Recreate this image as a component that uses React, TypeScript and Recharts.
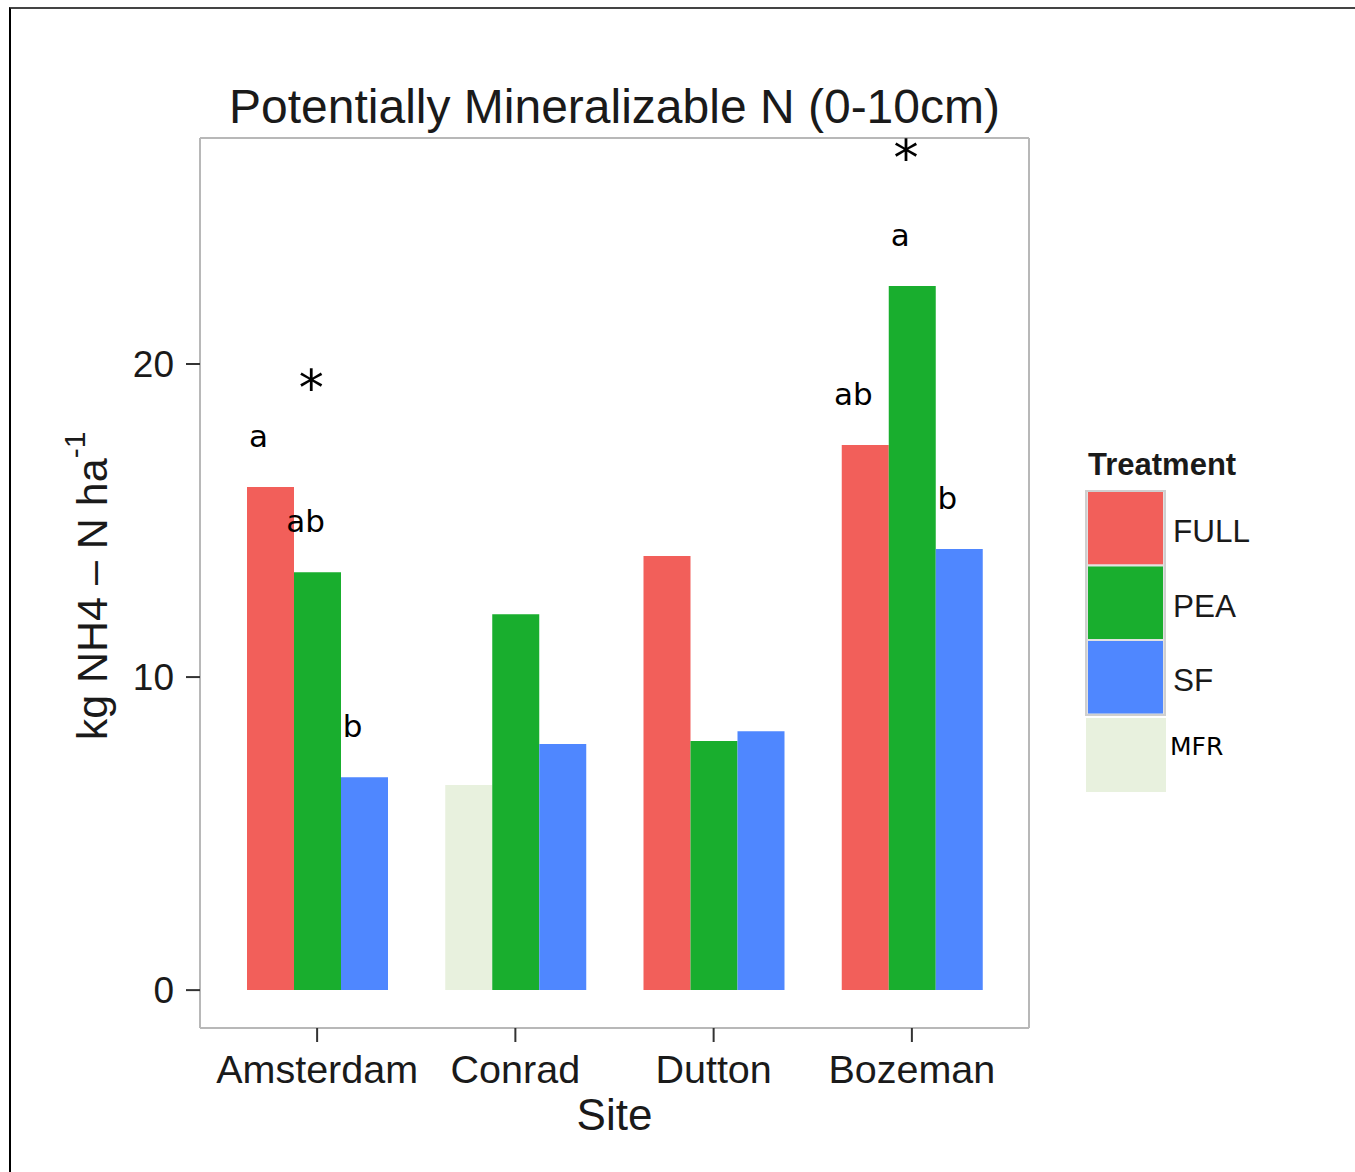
import React from 'react';
import { BarChart, Bar, XAxis, YAxis, CartesianGrid, Cell, LabelList, ReferenceDot, Legend, Label } from 'recharts';

const sites = ['Amsterdam', 'Conrad', 'Dutton', 'Bozeman'];
const firstTreatment = ['FULL', 'MFR', 'FULL', 'FULL'];
const firstValues = [16.07, 6.55, 13.87, 17.41];
const peaValues = [13.35, 12.01, 7.96, 22.49];
const sfValues = [6.8, 7.86, 8.27, 14.09];
const firstLetters = ['a', '', '', 'ab'];
const peaLetters = ['ab', '', '', 'a'];
const sfLetters = ['b', '', '', 'b'];
const starSites = ['Amsterdam', 'Bozeman'];
const starY = [19.55, 26.9];
const treatments = ['FULL', 'PEA', 'SF', 'MFR'];
const colors: Record<string, string> = { FULL: '#f25f5a', PEA: '#19ae2e', SF: '#4f87ff', MFR: '#e8f1de' };
const yTicks = [0, 10, 20];
const minorTicks = [5, 15, 25];
const yDomain: [number, number] = [-1.21, 27.22];
const title = 'Potentially Mineralizable N (0-10cm)';

const data = sites.map((site, i) => ({
  site,
  firstTreatment: firstTreatment[i],
  first: firstValues[i],
  PEA: peaValues[i],
  SF: sfValues[i],
  firstSig: firstLetters[i],
  peaSig: peaLetters[i],
  sfSig: sfLetters[i],
}));

const SANS = "'Liberation Sans', Arial, sans-serif";
const DEJAVU = "'DejaVu Sans', Verdana, sans-serif";
const BORDER = '#b8b8b8';

const renderSig = (props: any) => {
  const { x, y, width, value } = props;
  if (!value) return null;
  return (
    <text x={Number(x) + Number(width) / 2 - 12} y={Number(y) - 40} textAnchor="middle" fontFamily={DEJAVU} fontSize={31} fill="#000">
      {value}
    </text>
  );
};

const renderTitle = (props: any) => {
  const vb = props.viewBox || {};
  return (
    <text x={vb.x + vb.width / 2} y={vb.y - 14} textAnchor="middle" fontFamily={SANS} fontSize={48} fill="#1a1a1a">
      {title}
    </text>
  );
};

const renderSite = (props: any) => {
  const vb = props.viewBox || {};
  return (
    <text x={vb.x + vb.width / 2} y={vb.y + 102} textAnchor="middle" fontFamily={SANS} fontSize={44} fill="#1a1a1a">
      Site
    </text>
  );
};

const renderYLabel = (props: any) => {
  const vb = props.viewBox || {};
  const cx = vb.x + 107;
  const cy = vb.y + vb.height / 2 + 3;
  return (
    <text x={cx} y={cy} transform={`rotate(-90, ${cx}, ${cy})`} textAnchor="middle" fontFamily={SANS} fontSize={43} fill="#1a1a1a">
      kg NH4 – N ha
      <tspan dy={-22} fontSize={30}>-1</tspan>
    </text>
  );
};

const renderLegend = () => (
  <svg width={270} height={360} style={{ display: 'block' }}>
    <text x={8} y={35} fontFamily={SANS} fontWeight="bold" fontSize={31} fill="#1a1a1a">Treatment</text>
    {treatments.slice(0, 3).map((t, i) => (
      <g key={t}>
        <rect x={7} y={51 + i * 74.5} width={77} height={74.5} fill={colors[t]} stroke="#e2e2e2" strokeWidth={2} />
        <text x={93} y={51 + i * 74.5 + 37 + 14} fontFamily={SANS} fontSize={31.5} fill="#1a1a1a">{t}</text>
      </g>
    ))}
    <rect x={6} y={51} width={79} height={224} fill="none" stroke="#cfcfcf" strokeWidth={2} />
    <rect x={6} y={278} width={80} height={74} fill={colors[treatments[3]]} />
    <text x={90} y={315} fontFamily={DEJAVU} fontSize={25} fill="#000">{treatments[3]}</text>
  </svg>
);

export default function App() {
  return (
    <div style={{ position: 'absolute', left: 0, top: 0, width: 1355, height: 1172, overflow: 'hidden', background: '#fff' }}>
      <div style={{ position: 'absolute', left: 9, top: 7, width: 1400, height: 1200, borderLeft: '2px solid #000', borderTop: '2px solid #444', boxSizing: 'border-box' }} />
      <div style={{ position: 'absolute', left: 0, top: 0 }}>
        <BarChart width={1355} height={1172} data={data} margin={{ top: 137, right: 325, bottom: 0, left: 0 }} barGap={0} barSize={47}>
          <CartesianGrid yAxisId="r" vertical={false} stroke="#efefef" strokeWidth={2} />
          <XAxis
            dataKey="site"
            type="category"
            height={144}
            padding={{ left: 18, right: 18 }}
            tickSize={14}
            tickMargin={13}
            tickLine={{ stroke: '#333', strokeWidth: 2 }}
            axisLine={{ stroke: BORDER, strokeWidth: 2 }}
            tick={{ fill: '#1a1a1a', fontSize: 39.5, fontFamily: SANS }}
            label={<Label content={renderSite} />}
          />
          <XAxis
            xAxisId="t"
            orientation="top"
            dataKey="site"
            type="category"
            height={1}
            tick={false}
            tickLine={false}
            axisLine={{ stroke: BORDER, strokeWidth: 2 }}
            label={<Label content={renderTitle} />}
          />
          <YAxis
            type="number"
            width={200}
            domain={yDomain}
            allowDataOverflow
            ticks={yTicks}
            interval={0}
            tickSize={14}
            tickMargin={12}
            tickLine={{ stroke: '#333', strokeWidth: 2 }}
            axisLine={{ stroke: BORDER, strokeWidth: 2 }}
            tick={{ fill: '#1a1a1a', fontSize: 37, fontFamily: SANS }}
            label={<Label content={renderYLabel} />}
          />
          <YAxis
            yAxisId="r"
            orientation="right"
            type="number"
            width={1}
            domain={yDomain}
            allowDataOverflow
            ticks={minorTicks}
            interval={0}
            tick={false}
            tickLine={false}
            axisLine={{ stroke: BORDER, strokeWidth: 2 }}
          />
          <Bar dataKey="first" isAnimationActive={false}>
            {data.map((d) => (
              <Cell key={d.site} fill={colors[d.firstTreatment]} />
            ))}
            <LabelList dataKey="firstSig" content={renderSig} />
          </Bar>
          <Bar dataKey="PEA" fill={colors.PEA} isAnimationActive={false}>
            <LabelList dataKey="peaSig" content={renderSig} />
          </Bar>
          <Bar dataKey="SF" fill={colors.SF} isAnimationActive={false}>
            <LabelList dataKey="sfSig" content={renderSig} />
          </Bar>
          {starSites.map((s, i) => (
            <ReferenceDot
              key={s}
              x={s}
              y={starY[i]}
              r={0}
              ifOverflow="visible"
              shape={(p: any) => (
                <text x={p.cx - 6} y={p.cy + 27} textAnchor="middle" fontFamily={DEJAVU} fontSize={50} fill="#000">*</text>
              )}
            />
          ))}
          <Legend
            layout="horizontal"
            align="center"
            verticalAlign="middle"
            wrapperStyle={{ left: 1080, top: 440, width: 270, height: 360 }}
            content={renderLegend}
          />
        </BarChart>
      </div>
    </div>
  );
}
